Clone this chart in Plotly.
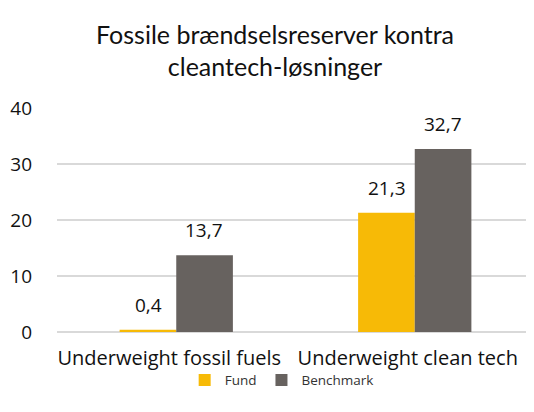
import plotly.graph_objects as go

categories = ["Underweight fossil fuels", "Underweight clean tech"]
fund = [0.4, 21.3]
benchmark = [13.7, 32.7]
fund_labels = ["0,4", "21,3"]
benchmark_labels = ["13,7", "32,7"]

fig = go.Figure()
fig.add_trace(go.Bar(
    x=categories, y=fund, name="Fund",
    marker=dict(color="#F7BA06", line=dict(width=0)),
))
fig.add_trace(go.Bar(
    x=categories, y=benchmark, name="Benchmark",
    marker=dict(color="#67625F", line=dict(width=0)),
))

# value labels sit a bit higher above the bars than plotly's own "outside" text
for cat, val, lab in zip(categories, fund, fund_labels):
    fig.add_annotation(x=cat, y=val, text=lab, showarrow=False,
                       xshift=-28, yshift=10, yanchor="bottom",
                       font=dict(size=19, color="#111111"))
for cat, val, lab in zip(categories, benchmark, benchmark_labels):
    fig.add_annotation(x=cat, y=val, text=lab, showarrow=False,
                       xshift=28, yshift=10, yanchor="bottom",
                       font=dict(size=19, color="#111111"))

# the page body has an 8px margin, so margins are shifted to compensate
fig.update_layout(
    width=534, height=412,
    paper_bgcolor="white", plot_bgcolor="white",
    font=dict(family="Open Sans", color="#111111"),
    title=dict(
        text="Fossile brændselsreserver kontra<br>cleantech-løsninger",
        x=0.5, xanchor="center", y=0.913, yanchor="top",
        font=dict(family="Lato", size=25, color="#111111"),
    ),
    barmode="group",
    bargap=0.525,
    bargroupgap=0,
    margin=dict(l=49, r=8, t=100, b=88),
    showlegend=True,
    legend=dict(
        orientation="h", x=0.471, xanchor="center", y=-0.215, yanchor="middle",
        font=dict(size=13.5, color="#333333"),
        itemwidth=30,
    ),
    xaxis=dict(
        tickfont=dict(size=20, color="#111111"),
        showline=False, showgrid=False, ticks="",
        ticklabelstandoff=12, ticklabelshift=-7, automargin=False,
    ),
    yaxis=dict(
        range=[0, 40], dtick=10,
        tickfont=dict(size=19, color="#111111"),
        gridcolor="#D9D9D9", gridwidth=1.5,
        zeroline=True, zerolinecolor="#D9D9D9", zerolinewidth=1.5,
        ticks="", ticklabelstandoff=24, automargin=False,
    ),
)

fig.write_html("out.html")
